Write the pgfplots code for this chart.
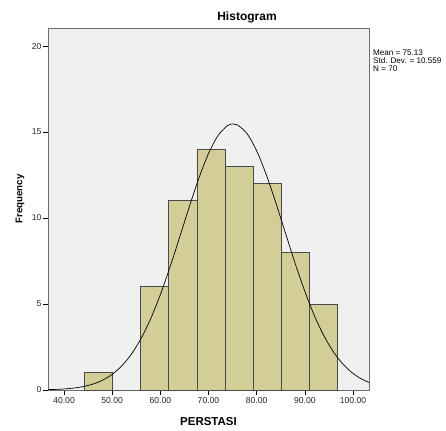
\documentclass[border=0pt]{standalone}
\usepackage{fontspec}
\setmainfont{Liberation Sans}
\usepackage{pgfplots}
\pgfplotsset{compat=1.18}
\definecolor{cBar}{HTML}{D3CE98}
\definecolor{cBarLine}{HTML}{4A4A4A}
\definecolor{cBack}{HTML}{F0F0F0}
\definecolor{cFrame}{HTML}{6E6E6E}
\begin{document}
\begin{tikzpicture}
\begin{axis}[
    at={(0,0)}, anchor=south west,
    scale only axis,
    width=321pt, height=362pt,
    xmin=36.67, xmax=103.33,
    ymin=0, ymax=21.05,
    axis background/.style={fill=cBack},
    axis line style={cFrame},
    xtick={40,50,...,100},
    ytick={0,5,10,15,20},
    xtick pos=bottom, ytick pos=left,
    tick align=outside,
    major tick length=5pt,
    tick style={black, line width=0.6pt},
    xticklabel={\pgfmathprintnumber[fixed,fixed zerofill,precision=2]{\tick}},
    /pgf/number format/assume math mode=true,
    ticklabel style={font=\fontsize{8.6}{10}\selectfont, text=black!85},
    xticklabel style={yshift=1pt},
    yticklabel style={xshift=2pt},
    xlabel={\textbf{PERSTASI}},
    xlabel style={font=\fontsize{11.5}{13}\selectfont, yshift=-7pt},
]
\addplot[ybar interval, fill=cBar, draw=cBarLine, line width=0.7pt]
    coordinates {(44.2,1) (50.05,0) (55.9,6) (61.75,11) (67.6,14) (73.45,13)
                 (79.3,12) (85.15,8) (91,5) (96.85,5)};
\addplot[black, line width=0.7pt, smooth] coordinates {
    (36,0.016) (38,0.032) (40,0.061) (42,0.113) (44,0.200) (46,0.344)
    (48,0.570) (50,0.911) (52,1.405) (54,2.089) (56,2.997) (58,4.149)
    (60,5.545) (62,7.141) (64,8.877) (66,10.645) (68,12.316) (70,13.748)
    (72,14.805) (74,15.382) (75.13,15.47) (76,15.417) (78,14.908) (80,13.909)
    (82,12.518) (84,10.871) (86,9.107) (88,7.359) (90,5.738) (92,4.316)
    (94,3.133) (96,2.194) (98,1.482) (100,0.965) (102,0.607) (104,0.368)};
\end{axis}
\node[font=\fontsize{12}{14}\selectfont\bfseries] at (199pt,373pt) {Histogram};
\node[font=\fontsize{9.7}{11}\selectfont\bfseries, rotate=90] at (-28pt,191pt) {Frequency};
\node[anchor=north west, align=left, inner sep=0pt,
      font=\fontsize{8.1}{7.8}\selectfont] at (325pt,340pt)
      {Mean = 75.13\\Std. Dev. = 10.559\\N = 70};
\pgfresetboundingbox
\path (-48pt,-40pt) rectangle (398pt,390pt);
\end{tikzpicture}
\end{document}
